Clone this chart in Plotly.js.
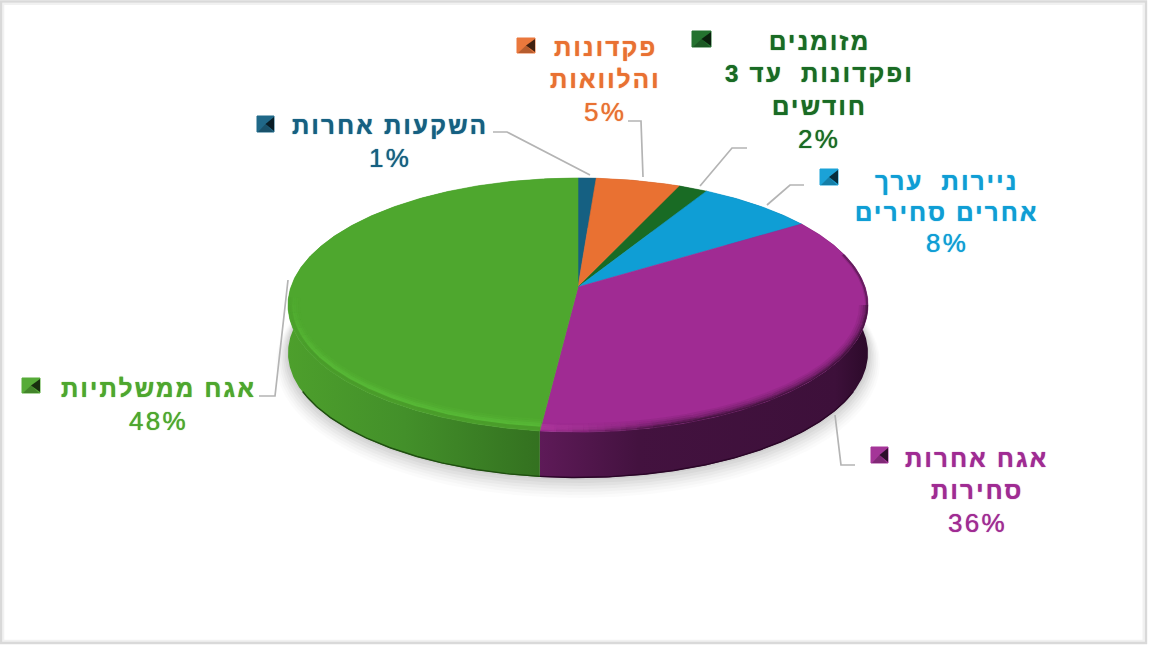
<!DOCTYPE html>
<html><head><meta charset="utf-8">
<script src="https://cdn.plot.ly/plotly-3.0.1.min.js"></script>
<style>html,body{margin:0;padding:0;background:#fff}#c{width:1152px;height:648px}
.annotation-text{letter-spacing:2.3px}</style></head>
<body><div id="c"></div>
<script>
// share of the drawn disc per category (clockwise from top)
const categories = ['השקעות אחרות','פקדונות והלוואות','מזומנים ופקדונות עד 3 חודשים','ניירות ערך אחרים סחירים','אגח אחרות סחירות','אגח ממשלתיות'];
const sliceShares = [1.0,4.7,1.6,6.7,38.1,47.9];
const sliceColors = ['#156082','#e97132','#196b24','#0f9ed5','#a02b93','#4ea72e'];
const rimStops = [
  [[0,'#0d3c52'],[1,'#0d3c52']],
  [[0,'#8a431e'],[1,'#8a431e']],
  [[0,'#0f4015'],[1,'#0f4015']],
  [[0,'#095f80'],[1,'#095f80']],
  [[0,'#5e1a58'],[0.3,'#43123f'],[0.9,'#3d103a'],[1,'#2c0a2a']],
  [[0,'#4d9f2c'],[0.4,'#43902a'],[1,'#2f681d']]
];
const labelLines = [
  ['השקעות אחרות','1%'],
  ['פקדונות','והלוואות','5%'],
  ['מזומנים','ופקדונות\u00a0\u00a0עד 3\u200f','חודשים','2%'],
  ['ניירות\u00a0\u00a0ערך','אחרים סחירים','8%'],
  ['אגח אחרות','סחירות','36%'],
  ['אגח ממשלתיות','48%']
];
const labelCentres = [[390,125],[605,47],[819,41],[947,181],[977,458],[158,388]];
const lineStep = [33,32.5,32.5,31,32.5,33];
const keyBoxes = [[257,116,274,132],[517,38,535,53],[692,31,711,47],[820,169,838,185],[871,447,888,463],[22,378,40,393]];
const leaders = [
  [[493,507,590],[132,132,175]],
  [[628,641,643],[121,121,177]],
  [[747,732,700],[148,148,186]],
  [[804,790,767],[185,185,205]],
  [[855,841,835],[465,465,415]],
  [[259,275,288],[396,396,280]]
];
const cx=578, cy=305, rx=290, ry=127, apexY=287, rimCy=353, rimRy=125;
const pt=(a,rX,rY,cY)=>[cx+rX*Math.sin(a),cY-rY*Math.cos(a)];
const arc=(a0,a1,rX,rY,cY)=>{const n=Math.max(2,Math.ceil((a1-a0)/0.01));const xs=[],ys=[];for(let i=0;i<=n;i++){const p=pt(a0+(a1-a0)*i/n,rX,rY,cY);xs.push(p[0]);ys.push(p[1]);}return [xs,ys];};
const total=sliceShares.reduce((a,b)=>a+b,0);
const edges=[0];sliceShares.forEach(v=>edges.push(edges[edges.length-1]+v/total*2*Math.PI));
const traces=[];
const base={type:'scatter',mode:'lines',hoverinfo:'skip',showlegend:false};
// soft shadow
[[20,.016],[17,.02],[14,.024],[11,.028],[8,.032],[5,.036],[2,.04]].forEach(([g,o])=>{
  const [x,y]=arc(0,2*Math.PI,rx+g*0.6,rimRy+g*0.5,rimCy+g*0.5);
  traces.push({...base,x,y,fill:'toself',fillcolor:`rgba(0,0,0,${o})`,line:{width:0}});
});
// rim
sliceShares.forEach((v,i)=>{
  const [ax,ay]=arc(edges[i],edges[i+1],rx,ry,cy);
  const [bx,by]=arc(edges[i],edges[i+1],rx,rimRy,rimCy);
  const x=ax.concat(bx.slice().reverse()),y=ay.concat(by.slice().reverse());
  traces.push({...base,x,y,fill:'toself',line:{width:0},
    fillgradient:{type:'horizontal',start:Math.min(...x),stop:Math.max(...x),colorscale:rimStops[i]}});
});
// dark lower lip of the rim
[[4,'#2b0628'],[5,'#1f4d10']].forEach(([i,d])=>{
  const a=Math.max(edges[i],Math.PI*0.6),b=Math.min(edges[i+1],1.4*Math.PI);
  const [x,y]=arc(a,b,rx-.5,rimRy-.5,rimCy);
  traces.push({...base,x,y,line:{color:d,width:1.4}});
});
// top faces
sliceShares.forEach((v,i)=>{
  const [ax,ay]=arc(edges[i],edges[i+1],rx,ry,cy);
  traces.push({...base,x:[cx,...ax,cx],y:[apexY,...ay,apexY],fill:'toself',fillcolor:sliceColors[i],line:{color:sliceColors[i],width:.6}});
});
// bevel along the front of the top face; each band fades from alpha m0 to m1 along the arc
const bevel=(from,to,rgb,cols,m0,m1)=>{
  const n=(m0===m1)?1:8;
  for(let s=0;s<n;s++){
    const f=(n===1)?1:m0+(m1-m0)*(s+.5)/n;
    cols.forEach(([t,al,w])=>{
      const [x,y]=arc(from+(to-from)*s/n,from+(to-from)*(s+1)/n,rx-t,ry-t,cy);
      traces.push({...base,x,y,line:{color:`rgba(${rgb},${al*f})`,width:w}});
    });
  }
};
const a5=edges[5];
const darkP='64,18,60', lightG='90,188,56', midG='72,152,42';
const darkBand=[[8,.1,2],[6,.22,2],[4,.4,2],[2,.65,2],[.6,.9,1.6]];
bevel(edges[4]+0.28,Math.PI*0.5,darkP,[[2,.18,2],[.8,.55,2]],1,1);
bevel(Math.PI*0.5,a5-0.45,darkP,darkBand,1,1);
bevel(a5-0.45,a5,darkP,darkBand,1,0);
bevel(a5-0.4,a5,'190,70,170',[[6,.3,2.4],[4,.35,2.4],[2,.3,2.4]],0,1);
const greenBand=[[11,.14,2],[9,.32,2],[7,.6,2.2],[5,.75,2.2]];
const greenLow=[[3,.7,2.2],[1,.55,2]];
bevel(a5,Math.PI*1.36,lightG,greenBand,1,1);
bevel(a5,Math.PI*1.36,midG,greenLow,1,1);
bevel(Math.PI*1.36,Math.PI*1.52,lightG,greenBand,1,.1);
bevel(Math.PI*1.36,Math.PI*1.52,midG,greenLow,1,.1);
// leader lines
leaders.forEach(([x,y])=>traces.push({...base,x,y,line:{color:'#b4b4b4',width:1.7}}));

// text
const annotations=[];
labelLines.forEach((lines,i)=>{
  lines.forEach((t,j)=>{
    const pct=/%/.test(t);
    annotations.push({
      xref:'x',yref:'y',x:labelCentres[i][0],y:labelCentres[i][1]+j*lineStep[i],text:t,showarrow:false,
      xanchor:'center',yanchor:'middle',
      font:{family:'"Liberation Sans",Arial,sans-serif',size:pct?26:24,color:sliceColors[i],weight:pct?400:700,
        shadow:`0 0 1px ${sliceColors[i]}`}
    });
  });
});
const shapes=[
  {type:'rect',xref:'x',yref:'y',x0:3.2,x1:1143.6,y0:3.8,y1:640.8,line:{color:'#f1f1f1',width:2.2},fillcolor:'rgba(0,0,0,0)',layer:'below'},
  {type:'rect',xref:'x',yref:'y',x0:1,x1:1146,y0:1.5,y1:643,line:{color:'#d9d9d9',width:2.4},fillcolor:'rgba(0,0,0,0)',layer:'below'}
];
keyBoxes.forEach((b,i)=>{
  shapes.push({type:'rect',xref:'x',yref:'y',x0:b[0],y0:b[1],x1:b[2],y1:b[3],fillcolor:sliceColors[i],line:{color:sliceColors[i],width:1},opacity:.95,layer:'above'});
  const mx=b[0]+(b[2]-b[0])*0.5,my=(b[1]+b[3])/2;
  shapes.push({type:'path',xref:'x',yref:'y',path:`M${b[2]},${b[1]+1} L${mx},${my} L${b[2]},${b[3]-1} Z`,fillcolor:'rgba(0,0,0,.72)',line:{width:0},layer:'above'});
  shapes.push({type:'path',xref:'x',yref:'y',path:`M${b[0]+1},${b[3]} L${mx},${my} L${b[2]-1},${b[3]} Z`,fillcolor:'rgba(0,0,0,.22)',line:{width:0},layer:'above'});
});
Plotly.newPlot('c',traces,{
  width:1152,height:648,margin:{l:0,r:0,t:0,b:0},paper_bgcolor:'#fff',plot_bgcolor:'#fff',showlegend:false,
  xaxis:{range:[0,1152],visible:false,fixedrange:true},
  yaxis:{range:[648,0],visible:false,fixedrange:true},
  annotations,shapes
},{displayModeBar:false,staticPlot:true});
</script></body></html>
